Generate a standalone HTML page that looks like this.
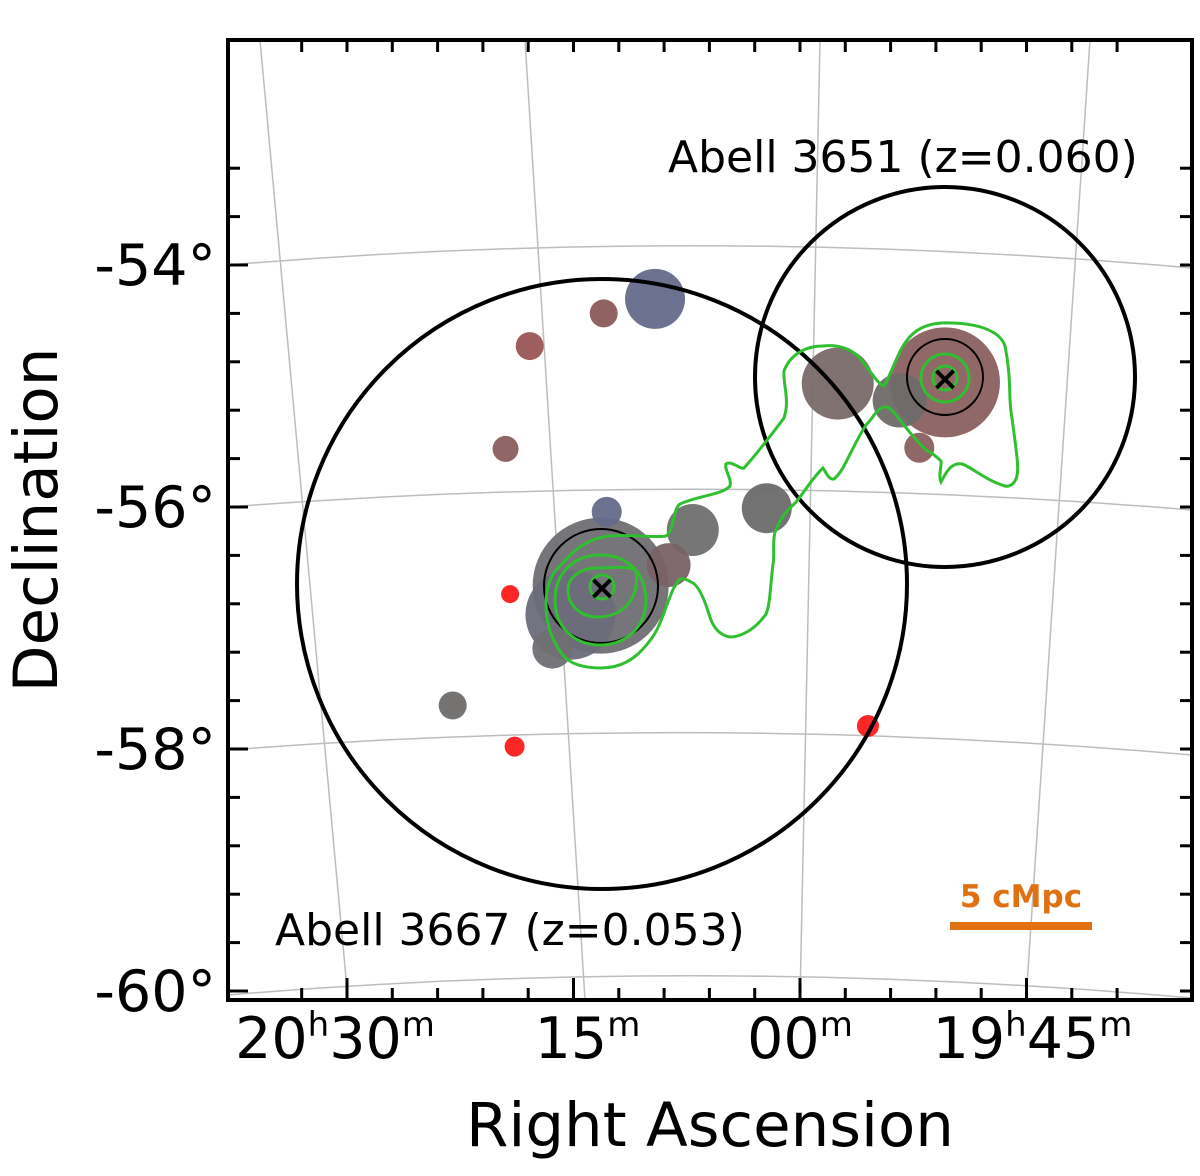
<!DOCTYPE html>
<html><head><meta charset="utf-8"><style>
body{margin:0;background:#fff}
svg{display:block;font-family:"DejaVu Sans","Liberation Sans",sans-serif}
</style></head><body>
<svg id="chart" width="1200" height="1176" viewBox="0 0 1200 1176">
<g id="grid" stroke="#bdbdbd" stroke-width="1.5" fill="none">
<path d="M260 40 L348 1000"/><path d="M525 40 L585 1000"/><path d="M820 40 L800 1000"/><path d="M1090 40 L1026 1000"/>
<path d="M228 265 Q705 225 1192 268"/><path d="M228 507 Q705 470 1192 510"/><path d="M228 750 Q705 713 1192 755"/><path d="M228 995 Q705 955 1192 998"/>
</g>
<g id="marks"></g>
<g fill="none" stroke="#000">
<circle cx="602" cy="584" r="305" stroke-width="4"/>
<circle cx="945" cy="377" r="190" stroke-width="4"/>
<circle cx="601" cy="586" r="57" stroke-width="2"/>
<circle cx="945" cy="377" r="38" stroke-width="2"/>
</g>
<g fill="none" stroke="#2fbf2f" stroke-width="3">
<path d="M941 323 C975 322 1000 330 1005 346 C1012 380 1008 400 1012 418 C1016 450 1020 470 1016 479 C1012 488 1005 486 1005 486 C985 480 970 466 962 464 C950 462 945 475 941 482 C938 475 942 465 941 461 C935 455 930 452 926 450 C905 430 895 410 887 407 C878 405 872 420 866 425 C850 450 845 470 834 479 C828 480 825 470 823 468 C810 480 800 500 791 507 C782 515 778 525 775 532 C772 545 775 555 773 564 C770 590 770 605 766 614 C755 630 740 637 730 637 C718 635 712 625 709 614 C703 595 697 584 691 582 C685 578 682 579 680 579 C672 588 670 598 666 607 C660 625 655 635 648 643 C635 660 620 668 601 668 C580 668 568 662 562 654 C552 640 546 625 546 604 C546 585 552 572 562 564 C575 548 590 538 609 536 C630 534 655 538 666 536 C675 530 672 510 680 504 C700 495 722 495 730 486 C732 478 724 470 726 464 C732 460 740 470 744 468 C760 450 775 430 784 418 C790 400 783 385 784 371 C790 355 805 346 823 346 C840 344 852 350 859 357 C870 370 878 385 884 386 C893 370 898 352 905 343 C915 328 928 324 941 323 Z"/>
<path d="M600 555 C625 555 645 570 646 600 C646 628 625 645 600 645 C575 645 555 628 555 600 C555 572 575 555 600 555 Z"/>
<path d="M597 568 C610 568 635 565 636 572 C640 595 625 617 598 617 C580 617 568 605 568 590 C568 576 582 568 597 568 Z"/>
<circle cx="602" cy="587" r="12"/>
<circle cx="945" cy="378" r="24"/>
<circle cx="945" cy="378" r="12"/>
</g>
<g>
<text x="602" y="599" font-size="34" text-anchor="middle" font-weight="bold" fill="#000">×</text>
<text x="945" y="390" font-size="34" text-anchor="middle" font-weight="bold" fill="#000">×</text>
</g>
<g>
<rect x="228" y="40" width="964" height="960" fill="none" stroke="#000" stroke-width="4"/>
</g>
<g id="ticks" stroke="#000" stroke-width="3"></g>
<g id="labels" font-size="57" fill="#000"></g>
<text x="668" y="172" font-size="44">Abell 3651 (z=0.060)</text>
<text x="275" y="945" font-size="44">Abell 3667 (z=0.053)</text>
<text x="1021" y="907" font-size="31" font-weight="bold" fill="#e07010" text-anchor="middle">5 cMpc</text>
<rect x="950" y="922" width="142" height="8" fill="#e07010"/>
<text x="710" y="1146" font-size="61" text-anchor="middle">Right Ascension</text>
<text transform="translate(57,520) rotate(-90)" font-size="61" text-anchor="middle">Declination</text>
</svg>
<script>
const raMin = [9.6, 13.0, 17.9, 19.5, 12.8, 13.2, 15.2, 16.4, 8.7, 7.1, 2.2, -2.5, -6.6, -9.6, -7.9, 23.0, 19.2, 18.9, -4.5];
const decDeg = [-54.28, -54.40, -54.67, -55.52, -56.04, -56.65, -56.89, -57.17, -56.48, -56.19, -56.01, -54.98, -55.12, -54.97, -55.51, -57.64, -56.72, -57.98, -57.81];
const sizes = [30, 14, 14, 13, 15, 68, 45, 20, 22, 26, 25, 36, 27, 55, 15, 14, 9, 10, 11];
const colors = ["#646a8a","#8a5a5a","#9a5555","#8a5e5e","#646a8a","#6f6f73","#6c6c7a","#6f6f73","#7a6265","#6f6f6f","#6a6a6a","#7a6a6a","#6f6a6a","#8a6060","#8a5e5e","#6e6a6a","#ff1a1a","#ff1a1a","#ff1a1a"];
const decTicks = [-54, -56, -58, -60];
const decTickLabels = ["-54°", "-56°", "-58°", "-60°"];
const raTicks = [30, 15, 0, -15];
const NS = "http://www.w3.org/2000/svg";
function xOf(ra){ return 800 - ra * 15.1; }
function yOf(dec){ return 265 + (-54 - dec) * 121; }
const marks = document.getElementById('marks');
const order = sizes.map((s,i)=>i).sort((a,b)=>sizes[b]-sizes[a]);
order.forEach(i=>{
  const c = document.createElementNS(NS,'circle');
  c.setAttribute('cx', xOf(raMin[i])); c.setAttribute('cy', yOf(decDeg[i]));
  c.setAttribute('r', sizes[i]); c.setAttribute('fill', colors[i]);
  c.setAttribute('fill-opacity', '0.95');
  
  
  marks.appendChild(c);
});
const ticks = document.getElementById('ticks');
function line(x1,y1,x2,y2){const l=document.createElementNS(NS,'line');l.setAttribute('x1',x1);l.setAttribute('y1',y1);l.setAttribute('x2',x2);l.setAttribute('y2',y2);


ticks.appendChild(l);}
for(let d=-53.2; d>=-60.05; d-=0.4){const y=yOf(d);const major=decTicks.some(t=>Math.abs(t-d)<0.01);line(228,y,major?248:240,y);line(1192,y,1180,y);}
for(let r=33; r>=-21; r-=3){const x=xOf(r);if(x<230||x>1190)continue;const major=raTicks.some(t=>Math.abs(t-r)<0.01);line(x,1000,x,major?978:988);line(x,40,x,52);}
const labels=document.getElementById('labels');
decTicks.forEach((d,i)=>{const t=document.createElementNS(NS,'text');t.setAttribute('x',216);t.setAttribute('y',yOf(d)+20);t.setAttribute('text-anchor','end');t.textContent=decTickLabels[i];


labels.appendChild(t);});
const raLab=[["20","h","30","m"],["","","15","m"],["","","00","m"],["19","h","45","m"]];
const raShift=[-12,14,0,6];
raTicks.forEach((r,i)=>{const t=document.createElementNS(NS,'text');t.setAttribute('x',xOf(r)+raShift[i]);t.setAttribute('y',1058);t.setAttribute('text-anchor','middle');
const p=raLab[i];t.innerHTML=(p[0]?p[0]+'<tspan font-size="34" dy="-22">'+p[1]+'</tspan><tspan dy="22">'+p[2]+'</tspan>':p[2])+'<tspan font-size="34" dy="-22">'+p[3]+'</tspan>';


labels.appendChild(t);});
</script>
</body></html>
